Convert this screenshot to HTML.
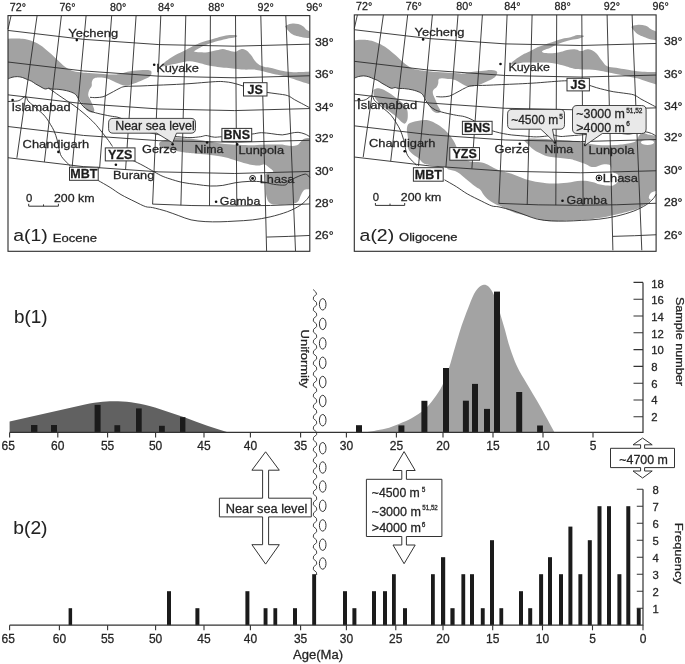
<!DOCTYPE html>
<html><head><meta charset="utf-8"><title>Figure</title><style>
html,body{margin:0;padding:0;background:#fff;width:685px;height:664px;overflow:hidden}
svg{display:block}
text{font-family:"Liberation Sans", Arial, sans-serif;stroke:#2a2a2a;stroke-width:0.28px}
</style></head><body>
<svg width="685" height="664" viewBox="0 0 685 664">
<rect width="685" height="664" fill="#fff"/>
<defs><clipPath id="c1"><rect x="8" y="15.6" width="301.8" height="235.4"/></clipPath><clipPath id="c2"><rect x="354.3" y="14.9" width="301.8" height="235.4"/></clipPath></defs>
<g clip-path="url(#c1)">
<path d="M5,38.9 C5,38.9 10.3,38.52 13.8,38.5 C17.3,38.48 19,38.36 22.5,38.8 C26,39.24 27.8,39.46 31.3,40.7 C34.8,41.94 36.5,42.74 40,45 C43.5,47.26 45.28,49 48.8,52 C52.32,55 54.44,57.08 57.6,60 C60.76,62.92 61.8,64.52 64.6,66.6 C67.4,68.68 68.46,69.26 71.6,70.4 C74.74,71.54 76.8,71.76 80.3,72.3 C83.8,72.84 84.54,72.76 89.1,73.1 C93.66,73.44 98.2,73.7 103.1,74 C108,74.3 110.22,74.64 113.6,74.6 C116.98,74.56 116.62,74.46 120,73.8 C123.38,73.14 125.94,72.04 130.5,71.3 C135.06,70.56 138.94,70.28 142.8,70.1 C146.66,69.92 148.06,69.9 149.8,70.4 C151.54,70.9 151.5,71.36 151.5,72.6 C151.5,73.84 151.54,75.1 149.8,76.6 C148.06,78.1 145.96,78.7 142.8,80.1 C139.64,81.5 137.5,82.48 134,83.6 C130.5,84.72 128.9,85.92 125.3,85.7 C121.7,85.48 119.66,83.92 116,82.5 C112.34,81.08 110.2,79.58 107,78.6 C103.8,77.62 102.5,77.66 100,77.6 C97.5,77.54 96.1,77.52 94.5,78.3 C92.9,79.08 92.58,79.9 92,81.5 C91.42,83.1 92.14,84.6 91.6,86.3 C91.06,88 89.98,88.26 89.3,90 C88.62,91.74 88.1,93.24 88.2,95 C88.3,96.76 89.18,97.4 89.8,98.8 C90.42,100.2 90.66,100.56 91.3,102 C91.94,103.44 92.4,104.3 93,106 C93.6,107.7 94.38,109.18 94.3,110.5 C94.22,111.82 93.76,112.4 92.6,112.6 C91.44,112.8 89.9,112.22 88.5,111.5 C87.1,110.78 86.88,110.54 85.6,109 C84.32,107.46 83.32,105.72 82.1,103.8 C80.88,101.88 80.56,100.98 79.5,99.4 C78.44,97.82 78.04,97.18 76.8,95.9 C75.56,94.62 75.4,94.06 73.3,93 C71.2,91.94 69.34,91.34 66.3,90.6 C63.26,89.86 60.96,89.6 58.1,89.3 C55.24,89 53.84,89.32 52,89.1 C50.16,88.88 50.12,88.22 48.9,88.2 C47.68,88.18 46.92,88.94 45.9,89 C44.88,89.06 44.98,89.02 43.8,88.5 C42.62,87.98 41.62,87.3 40,86.4 C38.38,85.5 37.4,85.04 35.7,84 C34,82.96 33.14,82.08 31.5,81.2 C29.86,80.32 29.3,80.34 27.5,79.6 C25.7,78.86 24.54,78.1 22.5,77.5 C20.46,76.9 19.4,76.64 17.3,76.6 C15.2,76.56 14.46,76.84 12,77.3 C9.54,77.76 5,78.9 5,78.9 C5,78.9 5,38.9 5,38.9Z" fill="#a2a2a2"/>
<path d="M161.2,65.7 C162,64.28 165.68,61.38 169,59 C172.32,56.62 174.28,55.72 177.8,53.8 C181.32,51.88 183.1,51.16 186.6,49.4 C190.1,47.64 191.8,46.58 195.3,45 C198.8,43.42 200.58,42.72 204.1,41.5 C207.62,40.28 209.4,39.92 212.9,38.9 C216.4,37.88 218.22,37.18 221.6,36.4 C224.98,35.62 226.76,35.2 229.8,35 C232.84,34.8 235.76,34.94 236.8,35.4 C237.84,35.86 237.1,36.6 235,37.3 C232.9,38 230.14,38.06 226.3,38.9 C222.46,39.74 220,40.24 215.8,41.5 C211.6,42.76 208.66,43.86 205.3,45.2 C201.94,46.54 201.3,46.96 199,48.2 C196.7,49.44 193.8,51.4 193.8,51.4 C193.8,51.4 197.24,52.14 200,52.3 C202.76,52.46 204.32,52.6 207.6,52.2 C210.88,51.8 213.36,50.96 216.4,50.3 C219.44,49.64 220.48,48.9 222.8,48.9 C225.12,48.9 225.56,49.72 228,50.3 C230.44,50.88 232.54,51.98 235,51.8 C237.46,51.62 238.2,49.78 240.3,49.4 C242.4,49.02 243.4,48.84 245.5,49.9 C247.6,50.96 248.68,52.24 250.8,54.7 C252.92,57.16 253.64,59.82 256.1,62.2 C258.56,64.58 260.3,65.48 263.1,66.6 C265.9,67.72 266.6,67.04 270.1,67.8 C273.6,68.56 276.4,69.56 280.6,70.4 C284.8,71.24 286.9,71.68 291.1,72 C295.3,72.32 297.22,72.14 301.6,72 C305.98,71.86 313,71.3 313,71.3 C313,71.3 313,85.3 313,85.3 C313,85.3 305.98,83.2 301.6,81.8 C297.22,80.4 294.96,79.52 291.1,78.3 C287.24,77.08 285.8,76.58 282.3,75.7 C278.8,74.82 276.74,74.6 273.6,73.9 C270.46,73.2 269.4,72.9 266.6,72.2 C263.8,71.5 262.4,70.92 259.6,70.4 C256.8,69.88 255.76,69.76 252.6,69.6 C249.44,69.44 247.32,69.78 243.8,69.6 C240.28,69.42 238.5,69.06 235,68.7 C231.5,68.34 229.8,68.16 226.3,67.8 C222.8,67.44 221,67.36 217.5,66.9 C214,66.44 212.3,66.24 208.8,65.5 C205.3,64.76 203.74,64.06 200,63.2 C196.26,62.34 193.84,61.36 190.1,61.2 C186.36,61.04 184.8,61.78 181.3,62.4 C177.8,63.02 175.86,63.56 172.6,64.3 C169.34,65.04 167.28,65.82 165,66.1 C162.72,66.38 160.4,67.12 161.2,65.7Z" fill="#a2a2a2"/>
<path d="M285.8,25.8 C286.86,25.04 288.64,24.06 291.1,23.7 C293.56,23.34 295.64,23.42 298.1,24 C300.56,24.58 301.64,25.38 303.4,26.6 C305.16,27.82 304.98,28.92 306.9,30.1 C308.82,31.28 313,32.5 313,32.5 C313,32.5 313,38 313,38 C313,38 308.08,38.04 305.1,37.7 C302.12,37.36 300.56,36.94 298.1,36.3 C295.64,35.66 294.72,35.56 292.8,34.5 C290.88,33.44 289.9,32.4 288.5,31 C287.1,29.6 286.34,28.54 285.8,27.5 C285.26,26.46 284.74,26.56 285.8,25.8Z" fill="#a2a2a2"/>
<path d="M159.3,143 C159.9,141.44 162.18,141.1 165,140 C167.82,138.9 169.4,137.84 173.4,137.5 C177.4,137.16 180.34,137.9 185,138.3 C189.66,138.7 191.56,138.8 196.7,139.5 C201.84,140.2 205.08,140.9 210.7,141.8 C216.32,142.7 219.18,143.4 224.8,144 C230.42,144.6 233.2,144.54 238.8,144.8 C244.4,145.06 247.2,145.34 252.8,145.3 C258.4,145.26 261.2,144.74 266.8,144.6 C272.4,144.46 276.36,144.36 280.8,144.6 C285.24,144.84 285.76,145.68 289,145.8 C292.24,145.92 294.6,146.06 297,145.2 C299.4,144.34 299.4,142.82 301,141.5 C302.6,140.18 302.6,139.4 305,138.6 C307.4,137.8 313,137.5 313,137.5 C313,137.5 313,189.4 313,189.4 C313,189.4 309.38,188.98 307.5,189.2 C305.62,189.42 305,189.14 303.6,190.5 C302.2,191.86 301.58,193.86 300.5,196 C299.42,198.14 299.7,199.64 298.2,201.2 C296.7,202.76 295.12,203.12 293,203.8 C290.88,204.48 290.78,204.44 287.6,204.6 C284.42,204.76 280.6,204.88 277.1,204.6 C273.6,204.32 272.2,204.72 270.1,203.2 C268,201.68 267.46,200.04 266.6,197 C265.74,193.96 266,191.4 265.8,188 C265.6,184.6 265.56,182.84 265.6,180 C265.64,177.16 264.48,175.44 266,173.8 C267.52,172.16 272.6,173.06 273.2,171.8 C273.8,170.54 270.68,168.98 269,167.5 C267.32,166.02 266.64,164.82 264.8,164.4 C262.96,163.98 262.24,165.28 259.8,165.4 C257.36,165.52 255.36,165.38 252.6,165 C249.84,164.62 249.24,164.36 246,163.5 C242.76,162.64 240.64,161.96 236.4,160.7 C232.16,159.44 229.94,158.36 224.8,157.2 C219.66,156.04 216.32,155.6 210.7,154.9 C205.08,154.2 201.84,154.18 196.7,153.7 C191.56,153.22 189.66,153.2 185,152.5 C180.34,151.8 178,151.14 173.4,150.2 C168.8,149.26 164.82,149.24 162,147.8 C159.18,146.36 158.7,144.56 159.3,143Z" fill="#a2a2a2"/>
</g>
<g fill="none" stroke="#2b2b2b" stroke-width="0.9">
<path d="M8,30.43 Q158.9,51.87 309.8,44.16"/>
<path d="M8,62.03 Q158.9,83.47 309.8,75.76"/>
<path d="M8,94.83 Q158.9,116.27 309.8,108.56"/>
<path d="M8,126.53 Q158.9,147.97 309.8,140.26"/>
<path d="M8,157.73 Q158.9,179.17 309.8,171.46"/>
<path d="M152.6,204.08 Q231.2,207.98 309.8,203.96"/>
<path d="M266.6,237.07 Q288.2,236.57 309.8,235.46"/>
<path d="M11.1,15.6 L8,29.2"/>
<path d="M37.1,15.6 L16.9,157.8"/>
<path d="M61.4,15.6 L44.4,161.9"/>
<path d="M86.1,15.6 L72.2,166.6"/>
<path d="M111.7,15.6 L99.6,168.2"/>
<path d="M136.1,15.6 L125.6,169.2"/>
<path d="M160.8,15.6 L152.6,204.2"/>
<path d="M185.8,15.6 L180.9,205.3"/>
<path d="M210.4,15.6 L209.5,205.8"/>
<path d="M235.5,15.6 L236.8,206"/>
<path d="M260.8,15.6 L266.6,251"/>
<path d="M285.8,15.6 L295.5,251"/>
<path d="M8,78.9 C8.67,78.63 10.45,77.68 12,77.3 C13.55,76.92 15.55,76.57 17.3,76.6 C19.05,76.63 20.8,77 22.5,77.5 C24.2,78 26,78.98 27.5,79.6 C29,80.22 30.13,80.47 31.5,81.2 C32.87,81.93 34.28,83.13 35.7,84 C37.12,84.87 38.65,85.65 40,86.4 C41.35,87.15 42.82,88.07 43.8,88.5 C44.78,88.93 45.05,89.05 45.9,89 C46.75,88.95 47.88,88.18 48.9,88.2 C49.92,88.22 50.47,88.92 52,89.1 C53.53,89.28 55.72,89.05 58.1,89.3 C60.48,89.55 63.77,89.98 66.3,90.6 C68.83,91.22 71.55,92.12 73.3,93 C75.05,93.88 75.77,94.57 76.8,95.9 C77.83,97.23 78.47,99.28 79.5,101 C80.53,102.72 81.4,104.6 83,106.2 C84.6,107.8 86.62,109.4 89.1,110.6 C91.58,111.8 94.4,112.5 97.9,113.4 C101.4,114.3 106.75,115.35 110.1,116 C113.45,116.65 115.35,116.55 118,117.3 C120.65,118.05 123,118.97 126,120.5 C129,122.03 132.67,124.67 136,126.5 C139.33,128.33 141.78,130.07 146,131.5 C150.22,132.93 156,134.23 161.3,135.1 C166.6,135.97 173.02,136.28 177.8,136.7 C182.58,137.12 186.2,137.6 190,137.6 C193.8,137.6 197.97,137.05 200.6,136.7 C203.23,136.35 204.35,135.58 205.8,135.5 C207.25,135.42 207.83,135.92 209.3,136.2 C210.77,136.48 212.55,137.12 214.6,137.2 C216.65,137.28 218.03,136.98 221.6,136.7 C225.17,136.42 230.98,135.93 236,135.5 C241.02,135.07 247.48,134.57 251.7,134.1 C255.92,133.63 257.95,132.77 261.3,132.7 C264.65,132.63 268.3,133.33 271.8,133.7 C275.3,134.07 279.08,134.98 282.3,134.9 C285.52,134.82 288.47,133.63 291.1,133.2 C293.73,132.77 295.77,132.15 298.1,132.3 C300.43,132.45 303.15,133.37 305.1,134.1 C307.05,134.83 309.02,136.27 309.8,136.7"/>
<path d="M90,97.3 C91,97.35 93.83,97.68 96,97.6 C98.17,97.52 101,97.32 103,96.8 C105,96.28 106.23,95.38 108,94.5 C109.77,93.62 111.77,92.48 113.6,91.5 C115.43,90.52 117.1,89.43 119,88.6 C120.9,87.77 121.5,86.93 125,86.5 C128.5,86.07 135,86.2 140,86 C145,85.8 149.67,85.53 155,85.3 C160.33,85.07 166.17,84.88 172,84.6 C177.83,84.32 184.5,83.97 190,83.6 C195.5,83.23 200.32,82.75 205,82.4 C209.68,82.05 214.75,81.6 218.1,81.5 C221.45,81.4 222.78,81.58 225.1,81.8 C227.42,82.02 229.52,82.27 232,82.8 C234.48,83.33 237,84.08 240,85 C243,85.92 247,87.4 250,88.3 C253,89.2 255.18,89.72 258,90.4 C260.82,91.08 263.72,91.83 266.9,92.4 C270.08,92.97 273.65,93.27 277.1,93.8 C280.55,94.33 284.68,94.62 287.6,95.6 C290.52,96.58 292.27,98.4 294.6,99.7 C296.93,101 299.07,102.05 301.6,103.4 C304.13,104.75 308.43,107.07 309.8,107.8"/>
<path d="M8,101.5 C8.87,101.47 11.65,101.38 13.2,101.3 C14.75,101.22 16.12,101.23 17.3,101 C18.48,100.77 19.37,100.42 20.3,99.9 C21.23,99.38 22.05,98.48 22.9,97.9 C23.75,97.32 24.8,96.52 25.4,96.4 C26,96.28 26.15,96.62 26.5,97.2 C26.85,97.78 27.08,99.1 27.5,99.9 C27.92,100.7 28.15,101.15 29,102 C29.85,102.85 31.15,103.73 32.6,105 C34.05,106.27 36,108.12 37.7,109.6 C39.4,111.08 41.27,112.37 42.8,113.9 C44.33,115.43 45.62,117.03 46.9,118.8 C48.18,120.57 49.3,122.47 50.5,124.5 C51.7,126.53 52.98,128.42 54.1,131 C55.22,133.58 56.4,137.17 57.2,140 C58,142.83 58.35,145.58 58.9,148 C59.45,150.42 59.85,152.8 60.5,154.5 C61.15,156.2 61.8,156.92 62.8,158.2 C63.8,159.48 65.22,160.87 66.5,162.2 C67.78,163.53 69.83,165.53 70.5,166.2"/>
<path d="M48.6,88.3 C49.33,88.78 51.42,90.12 53,91.2 C54.58,92.28 55.88,93.27 58.1,94.8 C60.32,96.33 63.47,98.48 66.3,100.4 C69.13,102.32 72.15,104.12 75.1,106.3 C78.05,108.48 81.08,111 84,113.5 C86.92,116 90.27,119.02 92.6,121.3 C94.93,123.58 96.25,125.15 98,127.2 C99.75,129.25 101.35,131.38 103.1,133.6 C104.85,135.82 106.93,138.35 108.5,140.5 C110.07,142.65 111.83,145.5 112.5,146.5"/>
<path d="M133,160.5 C134.67,161.33 139.45,163.6 143,165.5 C146.55,167.4 151.13,170.15 154.3,171.9 C157.47,173.65 159.38,174.83 162,176 C164.62,177.17 166.62,177.83 170,178.9 C173.38,179.97 177.9,181.48 182.3,182.4 C186.7,183.32 191.7,183.8 196.4,184.4 C201.1,185 206.1,185.83 210.5,186 C214.9,186.17 218.72,185.93 222.8,185.4 C226.88,184.87 230.62,183.47 235,182.8 C239.38,182.13 244.42,181.55 249.1,181.4 C253.78,181.25 259.02,181.42 263.1,181.9 C267.18,182.38 269.98,183.77 273.6,184.3 C277.22,184.83 282.35,185.43 284.8,185.1 C287.25,184.77 286.85,183.38 288.3,182.3 C289.75,181.22 290.88,179.93 293.5,178.6 C296.12,177.27 301.67,174.88 304,174.3 C306.33,173.72 306.53,174.57 307.5,175.1 C308.47,175.63 309.42,177.1 309.8,177.5"/>
<path d="M98.2,180.5 C100.18,181.65 106.3,185.05 110.1,187.4 C113.9,189.75 116.85,192.22 121,194.6 C125.15,196.98 130.92,199.7 135,201.7 C139.08,203.7 142.57,205.62 145.5,206.6 C148.43,207.58 149.08,206.82 152.6,207.6 C156.12,208.38 162.23,209.95 166.6,211.3 C170.97,212.65 174.72,214.27 178.8,215.7 C182.88,217.13 186.72,218.92 191.1,219.9 C195.48,220.88 200.28,221.28 205.1,221.6 C209.92,221.92 215.02,221.88 220,221.8 C224.98,221.72 229.57,221.42 235,221.1 C240.43,220.78 246.75,220.6 252.6,219.9 C258.45,219.2 264.27,218.27 270.1,216.9 C275.93,215.53 282.63,213.6 287.6,211.7 C292.57,209.8 296.68,207.55 299.9,205.5 C303.12,203.45 305.25,201.15 306.9,199.4 C308.55,197.65 309.32,195.73 309.8,195"/>
</g>
<rect x="8" y="15.6" width="301.8" height="235.7" fill="none" stroke="#2b2b2b" stroke-width="1.1"/>
<text x="9.8" y="11.1" font-size="11.5" textLength="16.2" lengthAdjust="spacingAndGlyphs" fill="#222">72°</text>
<text x="59.4" y="11.1" font-size="11.5" textLength="16.2" lengthAdjust="spacingAndGlyphs" fill="#222">76°</text>
<text x="110" y="11.1" font-size="11.5" textLength="16.2" lengthAdjust="spacingAndGlyphs" fill="#222">80°</text>
<text x="158" y="11.1" font-size="11.5" textLength="16.2" lengthAdjust="spacingAndGlyphs" fill="#222">84°</text>
<text x="208.3" y="11.1" font-size="11.5" textLength="16.2" lengthAdjust="spacingAndGlyphs" fill="#222">88°</text>
<text x="257.5" y="11.1" font-size="11.5" textLength="16.2" lengthAdjust="spacingAndGlyphs" fill="#222">92°</text>
<text x="306.3" y="11.1" font-size="11.5" textLength="16.2" lengthAdjust="spacingAndGlyphs" fill="#222">96°</text>
<text x="315" y="46" font-size="11.5" textLength="18.6" lengthAdjust="spacingAndGlyphs" fill="#222">38°</text>
<text x="315" y="78.3" font-size="11.5" textLength="18.6" lengthAdjust="spacingAndGlyphs" fill="#222">36°</text>
<text x="315" y="110.5" font-size="11.5" textLength="18.6" lengthAdjust="spacingAndGlyphs" fill="#222">34°</text>
<text x="315" y="141.6" font-size="11.5" textLength="18.6" lengthAdjust="spacingAndGlyphs" fill="#222">32°</text>
<text x="315" y="174.8" font-size="11.5" textLength="18.6" lengthAdjust="spacingAndGlyphs" fill="#222">30°</text>
<text x="315" y="206.7" font-size="11.5" textLength="18.6" lengthAdjust="spacingAndGlyphs" fill="#222">28°</text>
<text x="315" y="239.2" font-size="11.5" textLength="18.6" lengthAdjust="spacingAndGlyphs" fill="#222">26°</text>
<circle cx="76.8" cy="40.1" r="1.3" fill="#111"/>
<text x="68.3" y="36.5" font-size="11.8" textLength="49.8" lengthAdjust="spacingAndGlyphs" fill="#222">Yecheng</text>
<circle cx="154.2" cy="64.7" r="1.3" fill="#111"/>
<text x="156.2" y="71.5" font-size="11.5" textLength="42.7" lengthAdjust="spacingAndGlyphs" fill="#222">Kuyake</text>
<circle cx="12.6" cy="100" r="1.3" fill="#111"/>
<text x="11.5" y="110.6" font-size="11.5" textLength="59" lengthAdjust="spacingAndGlyphs" fill="#222">Islamabad</text>
<circle cx="58.4" cy="151.9" r="1.3" fill="#111"/>
<text x="22.6" y="147.6" font-size="11.5" textLength="66.5" lengthAdjust="spacingAndGlyphs" fill="#222">Chandigarh</text>
<circle cx="172.6" cy="144.2" r="1.3" fill="#111"/>
<text x="142" y="153.2" font-size="11.5" textLength="34.8" lengthAdjust="spacingAndGlyphs" fill="#222">Gerze</text>
<circle cx="207.1" cy="142.5" r="1.3" fill="#111"/>
<text x="194.6" y="153.4" font-size="11.5" textLength="28.8" lengthAdjust="spacingAndGlyphs" fill="#222">Nima</text>
<circle cx="237.2" cy="144.4" r="1.3" fill="#111"/>
<text x="238.4" y="153.9" font-size="11.5" textLength="45.7" lengthAdjust="spacingAndGlyphs" fill="#222">Lunpola</text>
<circle cx="115.9" cy="164.7" r="1.3" fill="#111"/>
<text x="113" y="178.7" font-size="11.5" textLength="41.3" lengthAdjust="spacingAndGlyphs" fill="#222">Burang</text>
<circle cx="216.1" cy="201.7" r="1.3" fill="#111"/>
<text x="219.8" y="205" font-size="11.5" textLength="40.6" lengthAdjust="spacingAndGlyphs" fill="#222">Gamba</text>
<circle cx="252.6" cy="178.4" r="2.9" fill="#fff" stroke="#111" stroke-width="1"/>
<circle cx="252.6" cy="178.4" r="1.45" fill="#111"/>
<text x="259.8" y="182.6" font-size="11.5" textLength="34.5" lengthAdjust="spacingAndGlyphs" fill="#222">Lhasa</text>
<rect x="243.5" y="82.7" width="23.5" height="13.3" fill="#fff" stroke="#333" stroke-width="1"/>
<text x="255.25" y="93.62" font-size="12.5" font-weight="bold" text-anchor="middle" fill="#1a1a1a">JS</text>
<rect x="221.9" y="128.4" width="29.8" height="13" fill="#fff" stroke="#333" stroke-width="1"/>
<text x="236.8" y="139.18" font-size="12.5" font-weight="bold" text-anchor="middle" fill="#1a1a1a">BNS</text>
<rect x="105.3" y="147.9" width="29.7" height="13" fill="#fff" stroke="#333" stroke-width="1"/>
<text x="120.15" y="158.68" font-size="12.5" font-weight="bold" text-anchor="middle" fill="#1a1a1a">YZS</text>
<rect x="69.5" y="167.2" width="28.7" height="13.1" fill="#fff" stroke="#333" stroke-width="1"/>
<text x="83.85" y="178.03" font-size="12.5" font-weight="bold" text-anchor="middle" fill="#1a1a1a">MBT</text>
<path d="M113.1,118.4 L191,118.4 Q195.5,118.4 195.5,122.9 L195.5,128.7 Q195.5,133.2 191,133.2 L176.5,133.2 L172.6,142.8 L156.8,133.2 L113.1,133.2 Q108.6,133.2 108.6,128.7 L108.6,122.9 Q108.6,118.4 113.1,118.4Z" fill="#e9e9e9" stroke="#333" stroke-width="0.9"/>
<text x="115.2" y="130.3" font-size="12.3" textLength="79.6" lengthAdjust="spacingAndGlyphs" fill="#222">Near sea level</text>
<path d="M28.7,203.8 V206.2 H58.4 V203.8 M43.5,204.4 V206.2" fill="none" stroke="#333" stroke-width="1"/>
<text x="26" y="201.6" font-size="11.5" textLength="6.3" lengthAdjust="spacingAndGlyphs" fill="#222">0</text>
<text x="54" y="201.6" font-size="11.5" textLength="40.5" lengthAdjust="spacingAndGlyphs" fill="#222">200 km</text>
<text x="13.3" y="240.6" font-size="17" textLength="34.5" lengthAdjust="spacingAndGlyphs" fill="#222" style="stroke-width:0.06px">a(1)</text>
<text x="52.8" y="241.8" font-size="11.5" textLength="44.3" lengthAdjust="spacingAndGlyphs" fill="#222">Eocene</text>
<g clip-path="url(#c2)">
<path d="M351,40.7 C351,40.7 357.2,39.92 360.5,39.8 C363.8,39.68 364.34,39.58 367.5,40.1 C370.66,40.62 372.8,41.06 376.3,42.4 C379.8,43.74 381.5,44.52 385,46.8 C388.5,49.08 390.28,50.82 393.8,53.8 C397.32,56.78 399.44,59.08 402.6,61.7 C405.76,64.32 406.8,65.32 409.6,66.9 C412.4,68.48 413.46,68.78 416.6,69.6 C419.74,70.42 420.4,70.48 425.3,71 C430.2,71.52 435.14,71.78 441.1,72.2 C447.06,72.62 450.72,72.82 455.1,73.1 C459.48,73.38 459.92,73.78 463,73.6 C466.08,73.42 466.9,72.72 470.5,72.2 C474.1,71.68 476.8,71.46 481,71 C485.2,70.54 488.34,69.78 491.5,69.9 C494.66,70.02 495.84,70.58 496.8,71.6 C497.76,72.62 497,73.66 496.3,75 C495.6,76.34 495.3,76.94 493.3,78.3 C491.3,79.66 489.46,80.4 486.3,81.8 C483.14,83.2 480.76,84.34 477.5,85.3 C474.24,86.26 472.5,86.54 470,86.6 C467.5,86.66 467.98,86.92 465,85.6 C462.02,84.28 458.5,81.34 455.1,80 C451.7,78.66 450.82,79.22 448,78.9 C445.18,78.58 442.88,78.26 441,78.4 C439.12,78.54 439.16,78.58 438.6,79.6 C438.04,80.62 438.62,81.96 438.2,83.5 C437.78,85.04 437.46,86 436.5,87.3 C435.54,88.6 434.12,88.76 433.4,90 C432.68,91.24 432.7,92 432.9,93.5 C433.1,95 433.7,95.8 434.4,97.5 C435.1,99.2 435.72,100.34 436.4,102 C437.08,103.66 436.98,104 437.8,105.8 C438.62,107.6 440.36,109.56 440.5,111 C440.64,112.44 439.9,112.9 438.5,113 C437.1,113.1 435.3,112.8 433.5,111.5 C431.7,110.2 430.9,108.8 429.5,106.5 C428.1,104.2 427.78,102.26 426.5,100 C425.22,97.74 424.48,96.74 423.1,95.2 C421.72,93.66 421.7,93.36 419.6,92.3 C417.5,91.24 415.64,90.64 412.6,89.9 C409.56,89.16 407.26,88.9 404.4,88.6 C401.54,88.3 400.14,88.62 398.3,88.4 C396.46,88.18 396.42,87.52 395.2,87.5 C393.98,87.48 393.22,88.2 392.2,88.3 C391.18,88.4 391.28,88.52 390.1,88 C388.92,87.48 387.92,86.64 386.3,85.7 C384.68,84.76 383.7,84.34 382,83.3 C380.3,82.26 379.44,81.38 377.8,80.5 C376.16,79.62 375.6,79.64 373.8,78.9 C372,78.16 370.84,77.4 368.8,76.8 C366.76,76.2 365.7,75.94 363.6,75.9 C361.5,75.86 360.82,76.14 358.3,76.6 C355.78,77.06 351,78.2 351,78.2 C351,78.2 351,40.7 351,40.7Z" fill="#a2a2a2"/>
<path d="M374.2,89.5 C375.46,88.78 376.94,87.82 379.8,88.4 C382.66,88.98 384.64,90.02 388.5,92.4 C392.36,94.78 395.58,97.32 399.1,100.3 C402.62,103.28 404.36,104.14 406.1,107.3 C407.84,110.46 407.8,113.04 407.8,116.1 C407.8,119.16 407.14,121.26 406.1,122.6 C405.06,123.94 404.72,124.1 402.6,122.8 C400.48,121.5 398.32,118.5 395.5,116.1 C392.68,113.7 391.64,113.26 388.5,110.8 C385.36,108.34 382.6,106.6 379.8,103.8 C377,101 375.76,99.16 374.5,96.8 C373.24,94.44 373.56,93.46 373.5,92 C373.44,90.54 372.94,90.22 374.2,89.5Z" fill="#a2a2a2"/>
<path d="M510.8,63.4 C512.26,61.64 517.44,57.94 521.3,55.5 C525.16,53.06 526.6,52.94 530.1,51.2 C533.6,49.46 534.6,48.56 538.8,46.8 C543,45.04 546.54,43.98 551.1,42.4 C555.66,40.82 557.72,39.94 561.6,38.9 C565.48,37.86 567.32,37.96 570.5,37.2 C573.68,36.44 575.04,35.46 577.5,35.1 C579.96,34.74 581.56,35.1 582.8,35.4 C584.04,35.7 584.4,36 583.7,36.6 C583,37.2 581.94,37.7 579.3,38.4 C576.66,39.1 574.36,39.12 570.5,40.1 C566.64,41.08 563.88,41.84 560,43.3 C556.12,44.76 554.4,46 551.1,47.4 C547.8,48.8 545.22,49.34 543.5,50.3 C541.78,51.26 541.6,51.62 542.5,52.2 C543.4,52.78 545.5,53.06 548,53.2 C550.5,53.34 552.4,53.18 555,52.9 C557.6,52.62 558.6,52.4 561,51.8 C563.4,51.2 564.04,50.38 567,49.9 C569.96,49.42 573,49.18 575.8,49.4 C578.6,49.62 578.9,51 581,51 C583.1,51 584.2,49.62 586.3,49.4 C588.4,49.18 589.4,49.02 591.5,49.9 C593.6,50.78 594.7,51.62 596.8,53.8 C598.9,55.98 599.9,58.3 602,60.8 C604.1,63.3 604.48,64.9 607.3,66.3 C610.12,67.7 612.24,67.14 616.1,67.8 C619.96,68.46 622.4,68.9 626.6,69.6 C630.8,70.3 632.9,70.82 637.1,71.3 C641.3,71.78 643.22,71.86 647.6,72 C651.98,72.14 659,72 659,72 C659,72 659,85.3 659,85.3 C659,85.3 651.98,83.2 647.6,81.8 C643.22,80.4 641.3,79.42 637.1,78.3 C632.9,77.18 630.8,77.08 626.6,76.2 C622.4,75.32 619.96,74.7 616.1,73.9 C612.24,73.1 610.82,72.9 607.3,72.2 C603.78,71.5 602.7,70.92 598.5,70.4 C594.3,69.88 591.2,69.94 586.3,69.6 C581.4,69.26 578.24,69.4 574,68.7 C569.76,68 568.98,67.12 565.1,66.1 C561.22,65.08 558.8,64.3 554.6,63.6 C550.4,62.9 548.3,62.8 544.1,62.6 C539.9,62.4 537.8,62.6 533.6,62.6 C529.4,62.6 527.02,62.26 523.1,62.6 C519.18,62.94 516.46,64.14 514,64.3 C511.54,64.46 509.34,65.16 510.8,63.4Z" fill="#a2a2a2"/>
<path d="M631.8,26.6 C632.5,25.56 634.3,25.06 637.1,24.9 C639.9,24.74 643,24.92 645.8,25.8 C648.6,26.68 648.46,27.96 651.1,29.3 C653.74,30.64 659,32.5 659,32.5 C659,32.5 659,40.7 659,40.7 C659,40.7 652.64,39.78 649.3,38.9 C645.96,38.02 644.74,37.34 642.3,36.3 C639.86,35.26 638.84,34.94 637.1,33.7 C635.36,32.46 634.66,31.52 633.6,30.1 C632.54,28.68 631.1,27.64 631.8,26.6Z" fill="#a2a2a2"/>
<path d="M410,123 C412.62,121.48 416.34,120.92 420.1,120.4 C423.86,119.88 425.3,119.56 428.8,120.4 C432.3,121.24 434.08,122.36 437.6,124.6 C441.12,126.84 443.24,128.4 446.4,131.6 C449.56,134.8 451.08,136.92 453.4,140.6 C455.72,144.28 456.08,146.72 458,150 C459.92,153.28 460.6,154.72 463,157 C465.4,159.28 465.82,160.22 470,161.4 C474.18,162.58 478.36,161.24 483.9,162.9 C489.44,164.56 492.16,167.52 497.7,169.7 C503.24,171.88 506.04,171.9 511.6,173.8 C517.16,175.7 519.96,177.52 525.5,179.2 C531.04,180.88 533.76,181.34 539.3,182.2 C544.84,183.06 547.64,183.4 553.2,183.5 C558.76,183.6 561.54,183.24 567.1,182.7 C572.66,182.16 576.02,180.94 581,180.8 C585.98,180.66 588.16,181.24 592,182 C595.84,182.76 596.52,183.84 600.2,184.6 C603.88,185.36 607.48,185.8 610.4,185.8 C613.32,185.8 613.32,185.44 614.8,184.6 C616.28,183.76 617,183.02 617.8,181.6 C618.6,180.18 618.88,178.98 618.8,177.5 C618.72,176.02 618.46,175.22 617.4,174.2 C616.34,173.18 614.66,173.14 613.5,172.4 C612.34,171.66 612.1,171.52 611.6,170.5 C611.1,169.48 611.44,168.44 611,167.3 C610.56,166.16 610.54,165.42 609.4,164.8 C608.26,164.18 607.14,164.12 605.3,164.2 C603.46,164.28 602.24,164.64 600.2,165.2 C598.16,165.76 597.14,166.74 595.1,167 C593.06,167.26 591.72,166.98 590,166.5 C588.28,166.02 589.42,165.8 586.5,164.6 C583.58,163.4 578.94,161.62 575.4,160.5 C571.86,159.38 573.62,159.7 568.8,159 C563.98,158.3 556.54,157.92 551.3,157 C546.06,156.08 546.1,155.84 542.6,154.4 C539.1,152.96 536.82,151.88 533.8,149.8 C530.78,147.72 529.5,145.84 527.5,144 C525.5,142.16 523.8,140.6 523.8,140.6 C523.8,140.6 526.96,139.22 529,138.8 C531.04,138.38 529.54,138.38 534,138.5 C538.46,138.62 544.34,138.98 551.3,139.4 C558.26,139.82 562.46,139.98 568.8,140.6 C575.14,141.22 577.16,141.62 583,142.5 C588.84,143.38 591.6,144.5 598,145 C604.4,145.5 609,145.3 615,145 C621,144.7 623.8,144.3 628,143.5 C632.2,142.7 633.78,142.58 636,141 C638.22,139.42 637.78,137.22 639.1,135.6 C640.42,133.98 640.84,133.14 642.6,132.9 C644.36,132.66 644.62,133.74 647.9,134.4 C651.18,135.06 659,136.2 659,136.2 C659,136.2 659,190.5 659,190.5 C659,190.5 653.54,191.1 651.5,192.5 C649.46,193.9 649.08,195.84 648.8,197.5 C648.52,199.16 651.94,198.74 650.1,200.8 C648.26,202.86 643.8,205.7 639.6,207.8 C635.4,209.9 634,209.9 629.1,211.3 C624.2,212.7 621.4,213.4 615.1,214.8 C608.8,216.2 604.62,217.24 597.6,218.3 C590.58,219.36 587.02,219.56 580,220.1 C572.98,220.64 569.5,220.86 562.5,221 C555.5,221.14 551.98,221.78 545,220.8 C538.02,219.82 533.88,217.8 527.6,216.1 C521.32,214.4 518.86,214.24 513.6,212.3 C508.34,210.36 504.8,207.96 501.3,206.4 C497.8,204.84 498.54,205.72 496.1,204.5 C493.66,203.28 491.56,202.2 489.1,200.3 C486.64,198.4 485.56,197.1 483.8,195 C482.04,192.9 482.06,191.54 480.3,189.8 C478.54,188.06 477.8,188.4 475,186.3 C472.2,184.2 469.8,182.1 466.3,179.3 C462.8,176.5 461,174.24 457.5,172.3 C454,170.36 451.38,170.66 448.8,169.6 C446.22,168.54 448.36,167.92 444.6,167 C440.84,166.08 434.2,165.74 430,165 C425.8,164.26 425.94,164.7 423.6,163.3 C421.26,161.9 420.4,159.76 418.3,158 C416.2,156.24 415.06,156.24 413.1,154.5 C411.14,152.76 409.38,151.4 408.5,149.3 C407.62,147.2 408.88,146.8 408.7,144 C408.52,141.2 407.94,138.5 407.6,135.3 C407.26,132.1 406.52,130.46 407,128 C407.48,125.54 407.38,124.52 410,123Z" fill="#a2a2a2"/>
<ellipse cx="647.5" cy="142.4" rx="6.5" ry="2.7" fill="#fff"/>
</g>
<g fill="none" stroke="#2b2b2b" stroke-width="0.9">
<path d="M354.3,29.73 Q505.2,51.17 656.1,43.46"/>
<path d="M354.3,61.33 Q505.2,82.77 656.1,75.06"/>
<path d="M354.3,94.13 Q505.2,115.57 656.1,107.86"/>
<path d="M354.3,125.83 Q505.2,147.27 656.1,139.56"/>
<path d="M354.3,157.03 Q505.2,178.47 656.1,170.76"/>
<path d="M498.9,203.38 Q577.5,207.28 656.1,203.26"/>
<path d="M612.9,236.37 Q634.5,235.87 656.1,234.76"/>
<path d="M357.4,14.9 L354.3,28.5"/>
<path d="M383.4,14.9 L363.2,157.1"/>
<path d="M407.7,14.9 L390.7,161.2"/>
<path d="M432.4,14.9 L418.5,165.9"/>
<path d="M458,14.9 L445.9,167.5"/>
<path d="M482.4,14.9 L471.9,168.5"/>
<path d="M507.1,14.9 L498.9,203.5"/>
<path d="M532.1,14.9 L527.2,204.6"/>
<path d="M556.7,14.9 L555.8,205.1"/>
<path d="M581.8,14.9 L583.1,205.3"/>
<path d="M607.1,14.9 L612.9,250.3"/>
<path d="M632.1,14.9 L641.8,250.3"/>
<path d="M354.3,78.2 C354.97,77.93 356.75,76.98 358.3,76.6 C359.85,76.22 361.85,75.87 363.6,75.9 C365.35,75.93 367.1,76.3 368.8,76.8 C370.5,77.3 372.3,78.28 373.8,78.9 C375.3,79.52 376.43,79.77 377.8,80.5 C379.17,81.23 380.58,82.43 382,83.3 C383.42,84.17 384.95,84.95 386.3,85.7 C387.65,86.45 389.12,87.37 390.1,87.8 C391.08,88.23 391.35,88.35 392.2,88.3 C393.05,88.25 394.18,87.48 395.2,87.5 C396.22,87.52 396.77,88.22 398.3,88.4 C399.83,88.58 402.02,88.35 404.4,88.6 C406.78,88.85 410.07,89.28 412.6,89.9 C415.13,90.52 417.85,91.42 419.6,92.3 C421.35,93.18 422.07,93.87 423.1,95.2 C424.13,96.53 424.77,98.58 425.8,100.3 C426.83,102.02 427.7,103.9 429.3,105.5 C430.9,107.1 432.92,108.7 435.4,109.9 C437.88,111.1 440.7,111.8 444.2,112.7 C447.7,113.6 453.05,114.65 456.4,115.3 C459.75,115.95 461.65,115.85 464.3,116.6 C466.95,117.35 469.3,118.27 472.3,119.8 C475.3,121.33 478.97,123.97 482.3,125.8 C485.63,127.63 488.08,129.37 492.3,130.8 C496.52,132.23 502.3,133.53 507.6,134.4 C512.9,135.27 519.32,135.58 524.1,136 C528.88,136.42 532.5,136.9 536.3,136.9 C540.1,136.9 544.27,136.35 546.9,136 C549.53,135.65 550.65,134.88 552.1,134.8 C553.55,134.72 554.13,135.22 555.6,135.5 C557.07,135.78 558.85,136.42 560.9,136.5 C562.95,136.58 564.33,136.28 567.9,136 C571.47,135.72 577.28,135.23 582.3,134.8 C587.32,134.37 593.78,133.87 598,133.4 C602.22,132.93 604.25,132.07 607.6,132 C610.95,131.93 614.6,132.63 618.1,133 C621.6,133.37 625.38,134.28 628.6,134.2 C631.82,134.12 634.77,132.93 637.4,132.5 C640.03,132.07 642.07,131.45 644.4,131.6 C646.73,131.75 649.45,132.67 651.4,133.4 C653.35,134.13 655.32,135.57 656.1,136"/>
<path d="M436.3,96.6 C437.3,96.65 440.13,96.98 442.3,96.9 C444.47,96.82 447.3,96.62 449.3,96.1 C451.3,95.58 452.53,94.68 454.3,93.8 C456.07,92.92 458.07,91.78 459.9,90.8 C461.73,89.82 463.4,88.73 465.3,87.9 C467.2,87.07 467.8,86.23 471.3,85.8 C474.8,85.37 481.3,85.5 486.3,85.3 C491.3,85.1 495.97,84.83 501.3,84.6 C506.63,84.37 512.47,84.18 518.3,83.9 C524.13,83.62 530.8,83.27 536.3,82.9 C541.8,82.53 546.62,82.05 551.3,81.7 C555.98,81.35 561.05,80.9 564.4,80.8 C567.75,80.7 569.08,80.88 571.4,81.1 C573.72,81.32 575.82,81.57 578.3,82.1 C580.78,82.63 583.3,83.38 586.3,84.3 C589.3,85.22 593.3,86.7 596.3,87.6 C599.3,88.5 601.48,89.02 604.3,89.7 C607.12,90.38 610.02,91.13 613.2,91.7 C616.38,92.27 619.95,92.57 623.4,93.1 C626.85,93.63 630.98,93.92 633.9,94.9 C636.82,95.88 638.57,97.7 640.9,99 C643.23,100.3 645.37,101.35 647.9,102.7 C650.43,104.05 654.73,106.37 656.1,107.1"/>
<path d="M354.3,100.8 C355.17,100.77 357.95,100.68 359.5,100.6 C361.05,100.52 362.42,100.53 363.6,100.3 C364.78,100.07 365.67,99.72 366.6,99.2 C367.53,98.68 368.35,97.78 369.2,97.2 C370.05,96.62 371.1,95.82 371.7,95.7 C372.3,95.58 372.45,95.92 372.8,96.5 C373.15,97.08 373.38,98.4 373.8,99.2 C374.22,100 374.45,100.45 375.3,101.3 C376.15,102.15 377.45,103.03 378.9,104.3 C380.35,105.57 382.3,107.42 384,108.9 C385.7,110.38 387.57,111.67 389.1,113.2 C390.63,114.73 391.92,116.33 393.2,118.1 C394.48,119.87 395.6,121.77 396.8,123.8 C398,125.83 399.28,127.72 400.4,130.3 C401.52,132.88 402.7,136.47 403.5,139.3 C404.3,142.13 404.65,144.88 405.2,147.3 C405.75,149.72 406.15,152.1 406.8,153.8 C407.45,155.5 408.1,156.22 409.1,157.5 C410.1,158.78 411.52,160.17 412.8,161.5 C414.08,162.83 416.13,164.83 416.8,165.5"/>
<path d="M444.5,179.8 C446.48,180.95 452.6,184.35 456.4,186.7 C460.2,189.05 463.15,191.52 467.3,193.9 C471.45,196.28 477.22,199 481.3,201 C485.38,203 488.87,204.92 491.8,205.9 C494.73,206.88 495.38,206.12 498.9,206.9 C502.42,207.68 508.53,209.25 512.9,210.6 C517.27,211.95 521.02,213.57 525.1,215 C529.18,216.43 533.02,218.22 537.4,219.2 C541.78,220.18 546.58,220.58 551.4,220.9 C556.22,221.22 561.32,221.18 566.3,221.1 C571.28,221.02 575.87,220.72 581.3,220.4 C586.73,220.08 593.05,219.9 598.9,219.2 C604.75,218.5 610.57,217.57 616.4,216.2 C622.23,214.83 628.93,212.9 633.9,211 C638.87,209.1 642.98,206.85 646.2,204.8 C649.42,202.75 651.55,200.45 653.2,198.7 C654.85,196.95 655.62,195.03 656.1,194.3"/>
</g>
<rect x="354.3" y="14.9" width="301.8" height="236.4" fill="none" stroke="#2b2b2b" stroke-width="1.1"/>
<text x="356.1" y="10.4" font-size="11.5" textLength="16.2" lengthAdjust="spacingAndGlyphs" fill="#222">72°</text>
<text x="405.7" y="10.4" font-size="11.5" textLength="16.2" lengthAdjust="spacingAndGlyphs" fill="#222">76°</text>
<text x="456.3" y="10.4" font-size="11.5" textLength="16.2" lengthAdjust="spacingAndGlyphs" fill="#222">80°</text>
<text x="504.3" y="10.4" font-size="11.5" textLength="16.2" lengthAdjust="spacingAndGlyphs" fill="#222">84°</text>
<text x="554.6" y="10.4" font-size="11.5" textLength="16.2" lengthAdjust="spacingAndGlyphs" fill="#222">88°</text>
<text x="603.8" y="10.4" font-size="11.5" textLength="16.2" lengthAdjust="spacingAndGlyphs" fill="#222">92°</text>
<text x="652.6" y="10.4" font-size="11.5" textLength="16.2" lengthAdjust="spacingAndGlyphs" fill="#222">96°</text>
<text x="663.9" y="45.3" font-size="11.5" textLength="18.6" lengthAdjust="spacingAndGlyphs" fill="#222">38°</text>
<text x="663.9" y="77.6" font-size="11.5" textLength="18.6" lengthAdjust="spacingAndGlyphs" fill="#222">36°</text>
<text x="663.9" y="109.8" font-size="11.5" textLength="18.6" lengthAdjust="spacingAndGlyphs" fill="#222">34°</text>
<text x="663.9" y="140.9" font-size="11.5" textLength="18.6" lengthAdjust="spacingAndGlyphs" fill="#222">32°</text>
<text x="663.9" y="174.1" font-size="11.5" textLength="18.6" lengthAdjust="spacingAndGlyphs" fill="#222">30°</text>
<text x="663.9" y="206" font-size="11.5" textLength="18.6" lengthAdjust="spacingAndGlyphs" fill="#222">28°</text>
<text x="663.9" y="238.5" font-size="11.5" textLength="18.6" lengthAdjust="spacingAndGlyphs" fill="#222">26°</text>
<circle cx="423.1" cy="39.4" r="1.3" fill="#111"/>
<text x="414.6" y="35.8" font-size="11.8" textLength="49.8" lengthAdjust="spacingAndGlyphs" fill="#222">Yecheng</text>
<circle cx="500.5" cy="64" r="1.3" fill="#111"/>
<text x="508.4" y="71" font-size="11.5" textLength="41.5" lengthAdjust="spacingAndGlyphs" fill="#222">Kuyake</text>
<circle cx="358.9" cy="99.3" r="1.3" fill="#111"/>
<text x="357.1" y="109.4" font-size="11.5" textLength="60.2" lengthAdjust="spacingAndGlyphs" fill="#222">Islamabad</text>
<circle cx="404.7" cy="151.2" r="1.3" fill="#111"/>
<text x="369" y="147.3" font-size="11.5" textLength="66.5" lengthAdjust="spacingAndGlyphs" fill="#222">Chandigarh</text>
<circle cx="519.8" cy="143.7" r="1.3" fill="#111"/>
<text x="494.5" y="153.4" font-size="11.5" textLength="34.8" lengthAdjust="spacingAndGlyphs" fill="#222">Gerze</text>
<circle cx="554.9" cy="142.5" r="1.3" fill="#111"/>
<text x="544.4" y="153.4" font-size="11.5" textLength="28.8" lengthAdjust="spacingAndGlyphs" fill="#222">Nima</text>
<circle cx="585.1" cy="145" r="1.3" fill="#111"/>
<text x="588.6" y="154.1" font-size="11.5" textLength="45.9" lengthAdjust="spacingAndGlyphs" fill="#222">Lunpola</text>
<circle cx="562.5" cy="200.8" r="1.3" fill="#111"/>
<text x="566.5" y="204.2" font-size="11.5" textLength="40.6" lengthAdjust="spacingAndGlyphs" fill="#222">Gamba</text>
<circle cx="599" cy="178" r="2.9" fill="#fff" stroke="#111" stroke-width="1"/>
<circle cx="599" cy="178" r="1.45" fill="#111"/>
<text x="602.8" y="182.2" font-size="11.5" textLength="35.2" lengthAdjust="spacingAndGlyphs" fill="#222">Lhasa</text>
<rect x="567" y="78.3" width="22.4" height="12.6" fill="#fff" stroke="#333" stroke-width="1"/>
<text x="578.2" y="88.88" font-size="12.5" font-weight="bold" text-anchor="middle" fill="#1a1a1a">JS</text>
<rect x="462.4" y="121.3" width="29.7" height="13.1" fill="#fff" stroke="#333" stroke-width="1"/>
<text x="477.25" y="132.12" font-size="12.5" font-weight="bold" text-anchor="middle" fill="#1a1a1a">BNS</text>
<rect x="449.8" y="147.6" width="29.7" height="12.6" fill="#fff" stroke="#333" stroke-width="1"/>
<text x="464.65" y="158.18" font-size="12.5" font-weight="bold" text-anchor="middle" fill="#1a1a1a">YZS</text>
<rect x="413.4" y="167.7" width="29.8" height="13.5" fill="#fff" stroke="#333" stroke-width="1"/>
<text x="428.3" y="178.72" font-size="12.5" font-weight="bold" text-anchor="middle" fill="#1a1a1a">MBT</text>
<path d="M512.1,109.4 L560,109.4 Q564.5,109.4 564.5,113.9 L564.5,124.7 Q564.5,129.2 560,129.2 L552.5,129.2 L554.9,142.3 L540.8,129.2 L512.1,129.2 Q507.6,129.2 507.6,124.7 L507.6,113.9 Q507.6,109.4 512.1,109.4Z" fill="#e9e9e9" stroke="#333" stroke-width="0.9"/>
<text x="511.2" y="123.8" font-size="12.5" textLength="47" lengthAdjust="spacingAndGlyphs" fill="#222">~4500 m</text>
<text x="559.3" y="118.6" font-size="6.5" fill="#222">5</text>
<path d="M577,105.5 L641.6,105.5 Q646.1,105.5 646.1,110 L646.1,129 Q646.1,133.5 641.6,133.5 L602.3,133.5 L584.8,145.6 L586.5,133.5 L577,133.5 Q572.5,133.5 572.5,129 L572.5,110 Q572.5,105.5 577,105.5Z" fill="#e9e9e9" stroke="#333" stroke-width="0.9"/>
<text x="576.2" y="117.7" font-size="12.5" textLength="48.8" lengthAdjust="spacingAndGlyphs" fill="#222">~3000 m</text>
<text x="626.2" y="112.5" font-size="6.5" textLength="16.3" lengthAdjust="spacingAndGlyphs" fill="#222">51,52</text>
<text x="576.2" y="131.7" font-size="12.5" textLength="48.8" lengthAdjust="spacingAndGlyphs" fill="#222">&gt;4000 m</text>
<text x="626.3" y="125.8" font-size="6.5" fill="#222">6</text>
<path d="M375.4,203.0 V205.4 H404.7 V203.0 M390,203.6 V205.4" fill="none" stroke="#333" stroke-width="1"/>
<text x="372.8" y="200.8" font-size="11.5" textLength="6.3" lengthAdjust="spacingAndGlyphs" fill="#222">0</text>
<text x="400.8" y="200.8" font-size="11.5" textLength="40.5" lengthAdjust="spacingAndGlyphs" fill="#222">200 km</text>
<text x="359.6" y="240.6" font-size="17" textLength="34.5" lengthAdjust="spacingAndGlyphs" fill="#222" style="stroke-width:0.06px">a(2)</text>
<text x="399.1" y="241.3" font-size="11.5" textLength="58.3" lengthAdjust="spacingAndGlyphs" fill="#222">Oligocene</text>
<path d="M9.6,432.4 V421.5 L85,404.6 C100,401.3 112,401.2 118,401.3 C130,401.5 140,403.5 155,407.5 L185,417.5 C200,423.5 215,428.5 228.5,432.4 Z" fill="#616161"/>
<path d="M362.5,432.4 C364.42,432.15 370.08,431.53 374,430.9 C377.92,430.27 381.85,429.77 386,428.6 C390.15,427.43 394.57,425.67 398.9,423.9 C403.23,422.13 407.73,420.4 412,418 C416.27,415.6 420.83,412.75 424.5,409.5 C428.17,406.25 431.02,402.55 434,398.5 C436.98,394.45 439.9,390.28 442.4,385.2 C444.9,380.12 446.87,374.4 449,368 C451.13,361.6 453.12,353.8 455.2,346.8 C457.28,339.8 459.37,332.4 461.5,326 C463.63,319.6 465.92,313.73 468,308.4 C470.08,303.07 472.17,297.53 474,294 C475.83,290.47 477.35,288.73 479,287.2 C480.65,285.67 482.32,284.92 483.9,284.8 C485.48,284.68 486.98,285.13 488.5,286.5 C490.02,287.87 491.58,290.25 493,293 C494.42,295.75 495.8,299.55 497,303 C498.2,306.45 498.87,309.2 500.2,313.7 C501.53,318.2 503.37,324.28 505,330 C506.63,335.72 508,341.97 510,348 C512,354.03 514.17,360.2 517,366.2 C519.83,372.2 523.17,377.37 527,384 C530.83,390.63 535.42,397.93 540,406 C544.58,414.07 552.08,428 554.5,432.4 Z" fill="#a3a3a3"/>
<rect x="31" y="425" width="6.4" height="7.4" fill="#1b1b1b"/>
<rect x="51" y="425" width="6" height="7.4" fill="#1b1b1b"/>
<rect x="94.6" y="404.9" width="6" height="27.5" fill="#1b1b1b"/>
<rect x="114.4" y="425.2" width="5.8" height="7.2" fill="#1b1b1b"/>
<rect x="136" y="408.4" width="5.7" height="24" fill="#1b1b1b"/>
<rect x="159" y="425.8" width="5.8" height="6.6" fill="#1b1b1b"/>
<rect x="180" y="417.2" width="5.4" height="15.2" fill="#1b1b1b"/>
<rect x="356" y="425.2" width="6" height="7.2" fill="#1b1b1b"/>
<rect x="398.4" y="425.4" width="6" height="7" fill="#1b1b1b"/>
<rect x="421.4" y="400.8" width="6" height="31.6" fill="#1b1b1b"/>
<rect x="443" y="368" width="6" height="64.4" fill="#1b1b1b"/>
<rect x="462.9" y="400.7" width="6" height="31.7" fill="#1b1b1b"/>
<rect x="472" y="383.9" width="6" height="48.5" fill="#1b1b1b"/>
<rect x="484" y="408.9" width="6" height="23.5" fill="#1b1b1b"/>
<rect x="494" y="291.6" width="6" height="140.8" fill="#1b1b1b"/>
<rect x="516.2" y="392" width="6" height="40.4" fill="#1b1b1b"/>
<rect x="537.1" y="425.5" width="5.8" height="6.9" fill="#1b1b1b"/>
<path d="M9.6,432.4 H643 V282.6" fill="none" stroke="#333" stroke-width="1.2"/>
<text x="8.2" y="449.6" font-size="12" text-anchor="middle" fill="#222">65</text>
<text x="57.8" y="449.6" font-size="12" text-anchor="middle" fill="#222">60</text>
<text x="107.6" y="449.6" font-size="12" text-anchor="middle" fill="#222">55</text>
<text x="155.6" y="449.6" font-size="12" text-anchor="middle" fill="#222">50</text>
<text x="204" y="449.6" font-size="12" text-anchor="middle" fill="#222">45</text>
<text x="250.4" y="449.6" font-size="12" text-anchor="middle" fill="#222">40</text>
<text x="300.6" y="449.6" font-size="12" text-anchor="middle" fill="#222">35</text>
<text x="346.4" y="449.6" font-size="12" text-anchor="middle" fill="#222">30</text>
<text x="396.4" y="449.6" font-size="12" text-anchor="middle" fill="#222">25</text>
<text x="443" y="449.6" font-size="12" text-anchor="middle" fill="#222">20</text>
<text x="493" y="449.6" font-size="12" text-anchor="middle" fill="#222">15</text>
<text x="543" y="449.6" font-size="12" text-anchor="middle" fill="#222">10</text>
<text x="593" y="449.6" font-size="12" text-anchor="middle" fill="#222">5</text>
<text x="651.3" y="420.95" font-size="11.3" fill="#222">2</text>
<text x="651.3" y="404.3" font-size="11.3" fill="#222">4</text>
<text x="651.3" y="387.65" font-size="11.3" fill="#222">6</text>
<text x="651.3" y="371" font-size="11.3" fill="#222">8</text>
<text x="651.3" y="354.35" font-size="11.3" fill="#222">10</text>
<text x="651.3" y="337.7" font-size="11.3" fill="#222">12</text>
<text x="651.3" y="321.05" font-size="11.3" fill="#222">14</text>
<text x="651.3" y="304.4" font-size="11.3" fill="#222">16</text>
<text x="651.3" y="287.75" font-size="11.3" fill="#222">18</text>
<path d="M9.6,432.4 V437.4 M57.8,432.4 V437.4 M107.6,432.4 V437.4 M155.6,432.4 V437.4 M204,432.4 V437.4 M250.4,432.4 V437.4 M300.6,432.4 V437.4 M346.4,432.4 V437.4 M396.4,432.4 V437.4 M443,432.4 V437.4 M493,432.4 V437.4 M543,432.4 V437.4 M593,432.4 V437.4 M633.5,416.8 H643 M633.5,400 H643 M633.5,383.2 H643 M633.5,366.4 H643 M633.5,349.6 H643 M633.5,332.8 H643 M633.5,316 H643 M633.5,299.2 H643 M633.5,282.4 H643 " fill="none" stroke="#333" stroke-width="1.1"/>
<text transform="translate(675.6,296.9) rotate(90)" font-size="11.3" fill="#222" textLength="89" lengthAdjust="spacingAndGlyphs">Sample number</text>
<text x="14" y="322.6" font-size="17.5" textLength="33.5" lengthAdjust="spacingAndGlyphs" fill="#222" style="stroke-width:0.06px">b(1)</text>
<rect x="68.6" y="608.2" width="3.5" height="17" fill="#1b1b1b"/>
<rect x="167" y="591.2" width="4" height="34" fill="#1b1b1b"/>
<rect x="195.4" y="608.2" width="4" height="17" fill="#1b1b1b"/>
<rect x="245.4" y="591.2" width="4" height="34" fill="#1b1b1b"/>
<rect x="263.6" y="608.2" width="3.9" height="17" fill="#1b1b1b"/>
<rect x="273.4" y="608.2" width="3.8" height="17" fill="#1b1b1b"/>
<rect x="293" y="608.2" width="4" height="17" fill="#1b1b1b"/>
<rect x="312.2" y="574.2" width="3.9" height="51" fill="#1b1b1b"/>
<rect x="343" y="591.2" width="4" height="34" fill="#1b1b1b"/>
<rect x="352.4" y="608.2" width="4" height="17" fill="#1b1b1b"/>
<rect x="372" y="591.2" width="4" height="34" fill="#1b1b1b"/>
<rect x="383" y="591.2" width="4" height="34" fill="#1b1b1b"/>
<rect x="392" y="574.2" width="3.8" height="51" fill="#1b1b1b"/>
<rect x="403" y="608.2" width="4" height="17" fill="#1b1b1b"/>
<rect x="431" y="574.2" width="3.8" height="51" fill="#1b1b1b"/>
<rect x="441" y="557.2" width="4.2" height="68" fill="#1b1b1b"/>
<rect x="450.4" y="608.2" width="4.2" height="17" fill="#1b1b1b"/>
<rect x="461.4" y="574.2" width="3.8" height="51" fill="#1b1b1b"/>
<rect x="470" y="574.2" width="4" height="51" fill="#1b1b1b"/>
<rect x="480.8" y="608.2" width="3.9" height="17" fill="#1b1b1b"/>
<rect x="490" y="540.2" width="4" height="85" fill="#1b1b1b"/>
<rect x="499.4" y="608.2" width="3.8" height="17" fill="#1b1b1b"/>
<rect x="519" y="591.2" width="4" height="34" fill="#1b1b1b"/>
<rect x="528.2" y="608.2" width="4" height="17" fill="#1b1b1b"/>
<rect x="539.1" y="574.2" width="4" height="51" fill="#1b1b1b"/>
<rect x="548" y="557.2" width="4" height="68" fill="#1b1b1b"/>
<rect x="559" y="574.2" width="4" height="51" fill="#1b1b1b"/>
<rect x="568.4" y="526.6" width="4" height="98.6" fill="#1b1b1b"/>
<rect x="578.4" y="574.2" width="3.9" height="51" fill="#1b1b1b"/>
<rect x="587.8" y="540.2" width="4" height="85" fill="#1b1b1b"/>
<rect x="597.5" y="506.2" width="4" height="119" fill="#1b1b1b"/>
<rect x="607" y="506.2" width="4" height="119" fill="#1b1b1b"/>
<rect x="617.4" y="574.2" width="4" height="51" fill="#1b1b1b"/>
<rect x="626.3" y="506.2" width="4" height="119" fill="#1b1b1b"/>
<rect x="636.8" y="608.2" width="3.9" height="17" fill="#1b1b1b"/>
<path d="M9.6,625.2 H643 V489.2" fill="none" stroke="#333" stroke-width="1.2"/>
<text x="8.2" y="642.6" font-size="12" text-anchor="middle" fill="#222">65</text>
<text x="59.4" y="642.6" font-size="12" text-anchor="middle" fill="#222">60</text>
<text x="107.6" y="642.6" font-size="12" text-anchor="middle" fill="#222">55</text>
<text x="155.6" y="642.6" font-size="12" text-anchor="middle" fill="#222">50</text>
<text x="204" y="642.6" font-size="12" text-anchor="middle" fill="#222">45</text>
<text x="250.4" y="642.6" font-size="12" text-anchor="middle" fill="#222">40</text>
<text x="300.6" y="642.6" font-size="12" text-anchor="middle" fill="#222">35</text>
<text x="346.4" y="642.6" font-size="12" text-anchor="middle" fill="#222">30</text>
<text x="395.8" y="642.6" font-size="12" text-anchor="middle" fill="#222">25</text>
<text x="443" y="642.6" font-size="12" text-anchor="middle" fill="#222">20</text>
<text x="492.7" y="642.6" font-size="12" text-anchor="middle" fill="#222">15</text>
<text x="542.5" y="642.6" font-size="12" text-anchor="middle" fill="#222">10</text>
<text x="592.5" y="642.6" font-size="12" text-anchor="middle" fill="#222">5</text>
<text x="643" y="642.6" font-size="12" text-anchor="middle" fill="#222">0</text>
<text x="652.4" y="613.2" font-size="11.3" fill="#222">1</text>
<text x="652.4" y="596.2" font-size="11.3" fill="#222">2</text>
<text x="652.4" y="579.2" font-size="11.3" fill="#222">3</text>
<text x="652.4" y="562.2" font-size="11.3" fill="#222">4</text>
<text x="652.4" y="545.2" font-size="11.3" fill="#222">5</text>
<text x="652.4" y="528.2" font-size="11.3" fill="#222">6</text>
<text x="652.4" y="511.2" font-size="11.3" fill="#222">7</text>
<text x="652.4" y="494.2" font-size="11.3" fill="#222">8</text>
<path d="M9.6,625.2 V630.2 M59.4,625.2 V630.2 M107.6,625.2 V630.2 M155.6,625.2 V630.2 M204,625.2 V630.2 M250.4,625.2 V630.2 M300.6,625.2 V630.2 M346.4,625.2 V630.2 M395.8,625.2 V630.2 M443,625.2 V630.2 M492.7,625.2 V630.2 M542.5,625.2 V630.2 M592.5,625.2 V630.2 M643,625.2 V630.2 M636.8,608.2 H643 M636.8,591.2 H643 M636.8,574.2 H643 M636.8,557.2 H643 M636.8,540.2 H643 M636.8,523.2 H643 M636.8,506.2 H643 M636.8,489.2 H643 " fill="none" stroke="#333" stroke-width="1.1"/>
<text transform="translate(675.0,522.7) rotate(90)" font-size="11.3" fill="#222" textLength="61.2" lengthAdjust="spacingAndGlyphs">Frequency</text>
<text x="293" y="659.4" font-size="12.5" textLength="50" lengthAdjust="spacingAndGlyphs" fill="#222">Age(Ma)</text>
<text x="13.3" y="533.7" font-size="17.5" textLength="34.2" lengthAdjust="spacingAndGlyphs" fill="#222" style="stroke-width:0.06px">b(2)</text>
<path d="M313.1,289.5 Q316.5,292 316.7,294.2 Q312.1,296.9 313.3,299.6 Q317.9,302.3 316.7,305 Q312.1,307.7 313.3,310.4 Q317.9,313.1 316.7,315.8 Q312.1,318.5 313.3,321.2 Q317.9,323.9 316.7,326.6 Q312.1,329.3 313.3,332 Q317.9,334.7 316.7,337.4 Q312.1,340.1 313.3,342.8 Q317.9,345.5 316.7,348.2 Q312.1,350.9 313.3,353.6 Q317.9,356.3 316.7,359 Q312.1,361.7 313.3,364.4 Q317.9,367.1 316.7,369.8 Q312.1,372.5 313.3,375.2 Q317.9,377.9 316.7,380.6 Q312.1,383.3 313.3,386 Q317.9,388.7 316.7,391.4 Q312.1,394.1 313.3,396.8 Q317.9,399.5 316.7,402.2 Q312.1,404.9 313.3,407.6 Q317.9,410.3 316.7,413 Q312.1,415.7 313.3,418.4 Q317.9,421.1 316.7,423.8 Q312.1,426.5 313.3,429.2 Q317.9,431.9 316.7,434.6 Q312.1,437.3 313.3,440 Q317.9,442.7 316.7,445.4 Q312.1,448.1 313.3,450.8 Q317.9,453.5 316.7,456.2 Q312.1,458.9 313.3,461.6 Q317.9,464.3 316.7,467 Q312.1,469.7 313.3,472.4 Q317.9,475.1 316.7,477.8 Q312.1,480.5 313.3,483.2 Q317.9,485.9 316.7,488.6 Q312.1,491.3 313.3,494 Q317.9,496.7 316.7,499.4 Q312.1,502.1 313.3,504.8 Q317.9,507.5 316.7,510.2 Q312.1,512.9 313.3,515.6 Q317.9,518.3 316.7,521 Q312.1,523.7 313.3,526.4 Q317.9,529.1 316.7,531.8 Q312.1,534.5 313.3,537.2 Q317.9,539.9 316.7,542.6 Q312.1,545.3 313.3,548 Q317.9,550.7 316.7,553.4 Q312.1,556.1 313.3,558.8 Q317.9,561.5 316.7,564.2 Q312.1,566.9 313.3,569.6 Q317.9,572.3 316.7,575" fill="none" stroke="#333" stroke-width="0.9"/>
<ellipse cx="322.7" cy="304.3" rx="3.3" ry="5.7" fill="none" stroke="#333" stroke-width="1"/>
<ellipse cx="322.7" cy="323.9" rx="3.3" ry="5.7" fill="none" stroke="#333" stroke-width="1"/>
<ellipse cx="322.7" cy="343.4" rx="3.3" ry="5.7" fill="none" stroke="#333" stroke-width="1"/>
<ellipse cx="322.7" cy="362.8" rx="3.3" ry="5.7" fill="none" stroke="#333" stroke-width="1"/>
<ellipse cx="322.7" cy="382" rx="3.3" ry="5.7" fill="none" stroke="#333" stroke-width="1"/>
<ellipse cx="322.7" cy="401" rx="3.3" ry="5.7" fill="none" stroke="#333" stroke-width="1"/>
<ellipse cx="322.7" cy="420.2" rx="3.3" ry="5.7" fill="none" stroke="#333" stroke-width="1"/>
<ellipse cx="322.7" cy="448.2" rx="3.3" ry="5.7" fill="none" stroke="#333" stroke-width="1"/>
<ellipse cx="322.7" cy="467.5" rx="3.3" ry="5.7" fill="none" stroke="#333" stroke-width="1"/>
<ellipse cx="322.7" cy="486.5" rx="3.3" ry="5.7" fill="none" stroke="#333" stroke-width="1"/>
<ellipse cx="322.7" cy="505.8" rx="3.3" ry="5.7" fill="none" stroke="#333" stroke-width="1"/>
<ellipse cx="322.7" cy="525.4" rx="3.3" ry="5.7" fill="none" stroke="#333" stroke-width="1"/>
<ellipse cx="322.7" cy="544.7" rx="3.3" ry="5.7" fill="none" stroke="#333" stroke-width="1"/>
<ellipse cx="322.7" cy="563.5" rx="3.3" ry="5.7" fill="none" stroke="#333" stroke-width="1"/>
<text transform="translate(300.9,329.6) rotate(90)" font-size="11.8" fill="#222" textLength="58.5" lengthAdjust="spacingAndGlyphs">Uniformity</text>
<path d="M219.4,498.2 L262.6,498.2 L262.6,470.2 L251.9,470.2 L265.6,451.8 L279.3,470.2 L268.6,470.2 L268.6,498.2 L311.3,498.2 L311.3,516.9 L268.6,516.9 L268.6,544.7 L279.3,544.7 L265.6,564.1 L251.9,544.7 L262.6,544.7 L262.6,516.9 L219.4,516.9Z" fill="#fff" stroke="#333" stroke-width="1" stroke-linejoin="miter"/>
<text x="225.8" y="513" font-size="12.5" textLength="81.6" lengthAdjust="spacingAndGlyphs" fill="#222">Near sea level</text>
<path d="M366.4,479.3 L401.8,479.3 L401.8,470.5 L393,470.5 L404.1,451.6 L415.2,470.5 L406.4,470.5 L406.4,479.3 L441.9,479.3 L441.9,536.5 L406.4,536.5 L406.4,545 L415.2,545 L404.1,563.7 L393,545 L401.8,545 L401.8,536.5 L366.4,536.5Z" fill="#fff" stroke="#333" stroke-width="1" stroke-linejoin="miter"/>
<text x="371.8" y="496.6" font-size="12.5" textLength="48" lengthAdjust="spacingAndGlyphs" fill="#222">~4500 m</text>
<text x="421.8" y="491.6" font-size="6.5" fill="#222">5</text>
<text x="371.8" y="515.5" font-size="12.5" textLength="49.2" lengthAdjust="spacingAndGlyphs" fill="#222">~3000 m</text>
<text x="422.3" y="510.2" font-size="6.5" textLength="15.5" lengthAdjust="spacingAndGlyphs" fill="#222">51,52</text>
<text x="371.8" y="532.3" font-size="12.5" textLength="49.2" lengthAdjust="spacingAndGlyphs" fill="#222">&gt;4000 m</text>
<text x="421.8" y="527" font-size="6.5" fill="#222">6</text>
<path d="M610.5,448.3 L640.6,448.3 L640.6,444.8 L633,444.8 L642.6,438.1 L652.2,444.8 L644.6,444.8 L644.6,448.3 L674.5,448.3 L674.5,467.6 L644.6,467.6 L644.6,471 L652.2,471 L642.6,478 L633,471 L640.6,471 L640.6,467.6 L610.5,467.6Z" fill="#fff" stroke="#333" stroke-width="1" stroke-linejoin="miter"/>
<text x="619.3" y="463.8" font-size="12.5" textLength="48.6" lengthAdjust="spacingAndGlyphs" fill="#222">~4700 m</text>
</svg></body></html>
